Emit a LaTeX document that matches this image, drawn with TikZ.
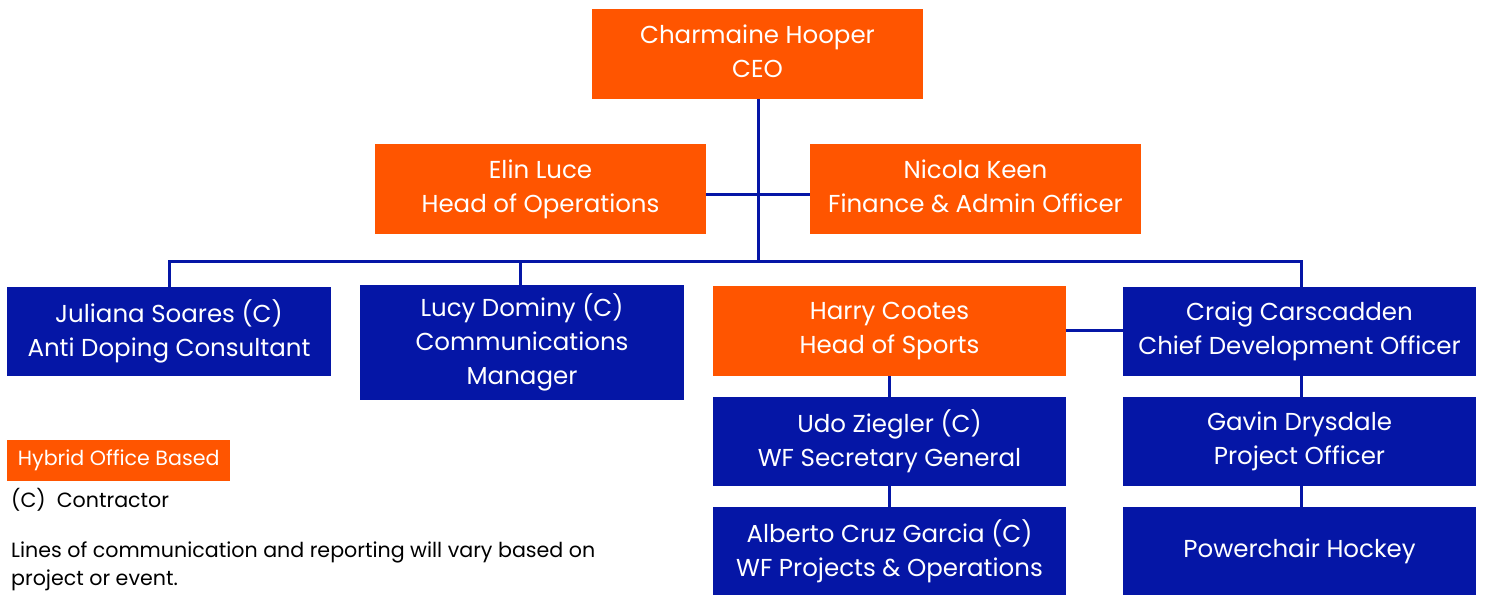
\documentclass[tikz,border=0pt]{standalone}
\usepackage{fontspec}
\setmainfont{Poppins}
\definecolor{orgorange}{HTML}{FF5500}
\definecolor{orgblue}{HTML}{0516A6}
\begin{document}
\begin{tikzpicture}[x=1pt,y=-1pt,
  box/.style={rectangle, inner sep=0pt, align=center, text=white,
    font=\fontsize{24.5}{34}\selectfont,
    execute at begin node={\vphantom{Hy}}, execute at end node={\vphantom{Hy}}},
  obox/.style={box, fill=orgorange},
  bbox/.style={box, fill=orgblue},
  link/.style={draw=orgblue, line width=3pt},
  legend/.style={inner sep=0pt, anchor=west, align=left, text=black,
    font=\fontsize{20.6}{28}\selectfont}]
\useasboundingbox (0,0) rectangle (1485,595);
% nodes
\node[obox, minimum width=331pt, minimum height=90pt] (ceo) at (757.5,54) {Charmaine Hooper\\CEO};
\node[obox, minimum width=331pt, minimum height=90pt] (elin) at (540.5,189) {Elin Luce\\Head of Operations};
\node[obox, minimum width=331pt, minimum height=90pt] (nicola) at (975.5,189) {Nicola Keen\\Finance \& Admin Officer};
\node[bbox, minimum width=324pt, minimum height=89pt] (juliana) at (169,331.5) {Juliana Soares (C)\\Anti Doping Consultant};
\node[bbox, minimum width=324pt, minimum height=115pt] (lucy) at (522,342.5) {Lucy Dominy (C)\\Communications\\Manager};
\node[obox, minimum width=353pt, minimum height=90pt] (harry) at (889.5,331) {Harry Cootes\\Head of Sports};
\node[bbox, minimum width=353pt, minimum height=89pt] (craig) at (1299.5,331.5) {Craig Carscadden\\Chief Development Officer};
\node[bbox, minimum width=353pt, minimum height=89pt] (udo) at (889.5,441.5) {Udo Ziegler (C)\\WF Secretary General};
\node[bbox, minimum width=353pt, minimum height=88pt] (alberto) at (889.5,551) {Alberto Cruz Garcia (C)\\WF Projects \& Operations};
\node[bbox, minimum width=353pt, minimum height=89pt] (gavin) at (1299.5,441.5) {Gavin Drysdale\\Project Officer};
\node[bbox, minimum width=353pt, minimum height=88pt] (power) at (1299.5,551) {Powerchair Hockey};
% legend
\node[fill=orgorange, text=white, inner xsep=0pt, minimum width=223pt, minimum height=41pt, anchor=west,
  font=\fontsize{20.6}{24}\selectfont] (hybrid) at (7,460.5) {Hybrid Office Based};
\node[legend] (contractor) at (11,500) {(C)\ \ Contractor};
\node[legend] (note) at (11,566) {Lines of communication and reporting will vary based on\\project or event.};
% connectors
\coordinate (busl) at (169,261);
\coordinate (busr) at (1301.5,261);
\coordinate (busc) at (758,261);
\draw[link] (ceo.south -| busc) -- (busc);
\draw[link] (juliana.north -| busl) -- (busl) -- (busr) -- (craig.north -| busr);
\draw[link] (lucy.north -| 520,0) -- (520,261);
\draw[link] (elin.east |- 0,194) -- (nicola.west |- 0,194);
\draw[link] (harry.east |- 0,330) -- (craig.west |- 0,330);
\draw[link] (harry.south) -- (udo.north);
\draw[link] (udo.south) -- (alberto.north);
\draw[link] (craig.south -| busr) -- (gavin.north -| busr);
\draw[link] (gavin.south -| busr) -- (power.north -| busr);
\end{tikzpicture}
\end{document}
